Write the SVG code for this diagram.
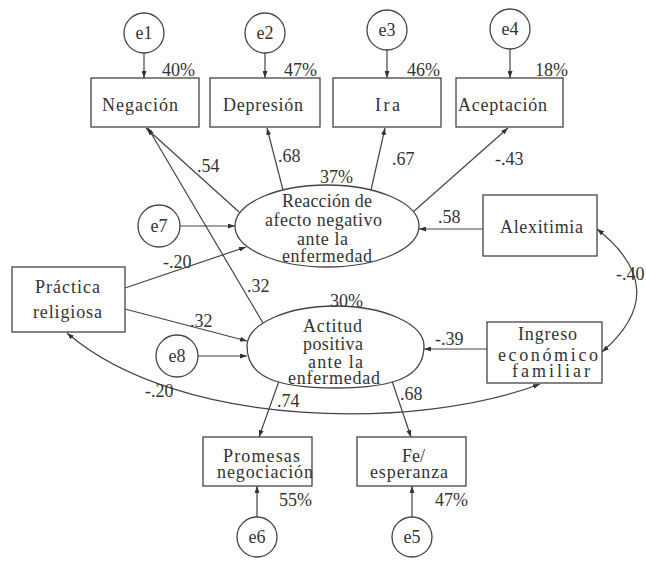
<svg xmlns="http://www.w3.org/2000/svg" width="646" height="561" viewBox="0 0 646 561" font-family="'Liberation Serif', 'DejaVu Serif', serif">
<defs>
<marker id="ah" viewBox="0 0 7 5" refX="7" refY="2.5" markerWidth="7" markerHeight="5" markerUnits="userSpaceOnUse" orient="auto-start-reverse">
<path d="M0,0 L7,2.5 L0,5 z" fill="#333"/>
</marker>
<style>
.b{fill:#fff;stroke:#444;stroke-width:1.3}
.t{font-family:'Liberation Serif','DejaVu Serif',serif;font-size:18px;fill:#333}
.c{text-anchor:middle}
.l{fill:none;stroke:#444;stroke-width:1.2}
.a{marker-end:url(#ah)}
.d{marker-start:url(#ah);marker-end:url(#ah)}
</style>
</defs>
<rect width="646" height="561" fill="#fff"/>
<g id="connectors">
<line class="l a" x1="144" y1="53" x2="144" y2="78"/>
<line class="l a" x1="265" y1="53" x2="265" y2="78"/>
<line class="l a" x1="387" y1="50" x2="387" y2="78"/>
<line class="l a" x1="510" y1="49" x2="510" y2="78"/>
<line class="l a" x1="239" y1="212" x2="146" y2="128"/>
<line class="l a" x1="263" y1="323" x2="148" y2="128"/>
<line class="l a" x1="283" y1="190" x2="267" y2="128"/>
<line class="l a" x1="371" y1="190" x2="385" y2="128"/>
<line class="l a" x1="413" y1="212" x2="508" y2="128"/>
<line class="l a" x1="180" y1="226" x2="235" y2="226"/>
<line class="l a" x1="198" y1="356" x2="247" y2="356"/>
<line class="l a" x1="125" y1="288" x2="246" y2="247"/>
<line class="l a" x1="125" y1="309" x2="247" y2="341"/>
<line class="l a" x1="483" y1="229" x2="419" y2="229"/>
<line class="l a" x1="487" y1="349" x2="424" y2="349"/>
<line class="l a" x1="279" y1="381" x2="259" y2="437"/>
<line class="l a" x1="392" y1="381" x2="411" y2="437"/>
<line class="l a" x1="257" y1="517" x2="257" y2="486"/>
<line class="l a" x1="412" y1="517" x2="412" y2="486"/>
<path class="l d" d="M597 229 Q674 290 602 352"/>
<path class="l d" d="M67 333 C180 430 420 430 540 384"/>
<g class="t">
<text x="197" y="172">.54</text>
<text x="278" y="162">.68</text>
<text x="392" y="165">.67</text>
<text x="495" y="165">-.43</text>
<text x="163" y="268">-.20</text>
<text x="247" y="292">.32</text>
<text x="438" y="223">.58</text>
<text x="190" y="327">.32</text>
<text x="435" y="345">-.39</text>
<text x="616" y="280">-.40</text>
<text x="145" y="397">-.20</text>
<text x="277" y="407">.74</text>
<text x="400" y="400">.68</text>
</g>
</g>
<g id="e1"><circle class="b" cx="144" cy="33" r="20"/><text class="t c" x="144" y="39">e1</text></g>
<g id="e2"><circle class="b" cx="265" cy="33" r="20"/><text class="t c" x="265" y="39">e2</text></g>
<g id="e3"><circle class="b" cx="387" cy="30" r="20"/><text class="t c" x="387" y="36">e3</text></g>
<g id="e4"><circle class="b" cx="510" cy="29" r="20"/><text class="t c" x="510" y="35">e4</text></g>
<g id="negacion"><rect class="b" x="91" y="78" width="108" height="49"/><text class="t" x="102" y="111" textLength="76" lengthAdjust="spacing">Negación</text><text class="t" x="162" y="76">40%</text></g>
<g id="depresion"><rect class="b" x="210" y="78" width="110" height="49"/><text class="t" x="223" y="111" textLength="80" lengthAdjust="spacing">Depresión</text><text class="t" x="284" y="76">47%</text></g>
<g id="ira"><rect class="b" x="333" y="78" width="108" height="49"/><text class="t" x="375" y="111" textLength="25" lengthAdjust="spacing">Ira</text><text class="t" x="407" y="76">46%</text></g>
<g id="aceptacion"><rect class="b" x="456" y="78" width="107" height="49"/><text class="t" x="458" y="111" textLength="89" lengthAdjust="spacing">Aceptación</text><text class="t" x="535" y="76">18%</text></g>
<g id="reaccion"><ellipse class="b" cx="327" cy="226" rx="92" ry="41"/>
<text class="t" x="320" y="183">37%</text>
<text class="t" x="282" y="207" textLength="90" lengthAdjust="spacing">Reacción de</text>
<text class="t" x="265" y="226" textLength="117" lengthAdjust="spacing">afecto negativo</text>
<text class="t" x="297" y="245" textLength="51" lengthAdjust="spacing">ante la</text>
<text class="t" x="282" y="262" textLength="90" lengthAdjust="spacing">enfermedad</text></g>
<g id="e7"><circle class="b" cx="159" cy="226" r="21"/><text class="t c" x="159" y="232">e7</text></g>
<g id="practica"><rect class="b" x="12" y="267" width="113" height="65"/>
<text class="t" x="35" y="293" textLength="65" lengthAdjust="spacing">Práctica</text>
<text class="t" x="33" y="318" textLength="69" lengthAdjust="spacing">religiosa</text></g>
<g id="alexitimia"><rect class="b" x="483" y="195" width="114" height="61"/>
<text class="t" x="500" y="233" textLength="83" lengthAdjust="spacing">Alexitimia</text></g>
<g id="actitud"><path class="b" d="M247 346 C247 324 287 306 335.5 306 C384 306 424 324 424 346 C424 376 397 388 335.5 388 C274 388 247 376 247 346 Z"/>
<text class="t" x="330" y="307">30%</text>
<text class="t" x="303" y="332" textLength="59" lengthAdjust="spacing">Actitud</text>
<text class="t" x="303" y="350" textLength="60" lengthAdjust="spacing">positiva</text>
<text class="t" x="308" y="368" textLength="55" lengthAdjust="spacing">ante la</text>
<text class="t" x="288" y="384" textLength="92" lengthAdjust="spacing">enfermedad</text></g>
<g id="e8"><circle class="b" cx="177" cy="356" r="21"/><text class="t c" x="177" y="362">e8</text></g>
<g id="ingreso"><rect class="b" x="487" y="322" width="115" height="61"/>
<text class="t" x="518" y="340" textLength="59" lengthAdjust="spacing">Ingreso</text>
<text class="t" x="498" y="361" textLength="100" lengthAdjust="spacing">económico</text>
<text class="t" x="512" y="377" textLength="78" lengthAdjust="spacing">familiar</text></g>
<g id="promesas"><rect class="b" x="203" y="437" width="109" height="49"/>
<text class="t" x="223" y="462" textLength="77" lengthAdjust="spacing">Promesas</text>
<text class="t" x="217" y="478" textLength="96" lengthAdjust="spacing">negociación</text>
<text class="t" x="279" y="506">55%</text></g>
<g id="fe"><rect class="b" x="357" y="437" width="109" height="49"/>
<text class="t" x="402" y="462" textLength="23" lengthAdjust="spacing">Fe/</text>
<text class="t" x="370" y="478" textLength="78" lengthAdjust="spacing">esperanza</text>
<text class="t" x="435" y="506">47%</text></g>
<g id="e6"><circle class="b" cx="257" cy="537" r="20"/><text class="t c" x="257" y="543">e6</text></g>
<g id="e5"><circle class="b" cx="412" cy="537" r="20"/><text class="t c" x="412" y="543">e5</text></g>
</svg>
